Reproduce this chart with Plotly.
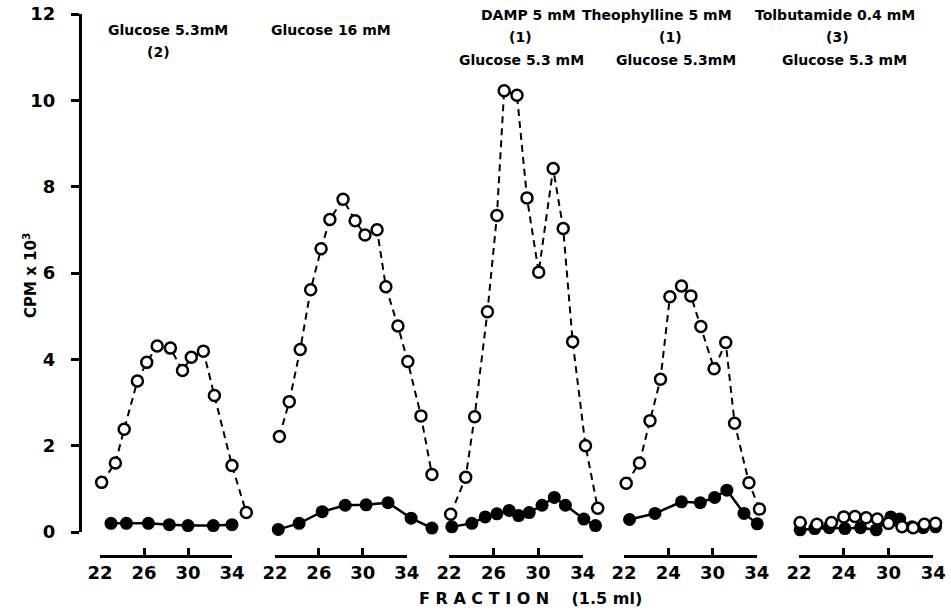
import plotly.graph_objects as go

# ---------------- data ----------------
panel_titles = [
    ["Glucose 5.3mM", "(2)"],
    ["Glucose 16 mM"],
    ["DAMP 5 mM", "(1)", "Glucose 5.3 mM"],
    ["Theophylline 5 mM", "(1)", "Glucose 5.3mM"],
    ["Tolbutamide 0.4 mM", "(3)", "Glucose 5.3 mM"],
]
tick_vals = [22, 26, 30, 34]
tick_text = [
    ["22", "26", "30", "34"],
    ["22", "26", "30", "34"],
    ["22", "26", "30", "34"],
    ["22", "24", "30", "34"],
    ["22", "24", "30", "34"],
]
y_ticks = [0, 2, 4, 6, 8, 10, 12]

p1_open_x = [22.15, 23.4, 24.2, 25.4, 26.25, 27.2, 28.4, 29.5, 30.3, 31.4, 32.4, 34.0, 35.3]
p1_open_y = [1.15, 1.6, 2.38, 3.5, 3.93, 4.31, 4.26, 3.74, 4.05, 4.19, 3.16, 1.54, 0.45]
p1_fill_x = [23.0, 24.4, 26.4, 28.3, 30.0, 32.3, 34.0]
p1_fill_y = [0.2, 0.2, 0.2, 0.17, 0.15, 0.15, 0.17]

p2_open_x = [22.4, 23.3, 24.3, 25.25, 26.2, 27.0, 28.2, 29.3, 30.2, 31.3, 32.1, 33.2, 34.1, 35.3, 36.3]
p2_open_y = [2.21, 3.02, 4.23, 5.61, 6.56, 7.24, 7.71, 7.21, 6.88, 7.0, 5.68, 4.77, 3.95, 2.69, 1.33]
p2_fill_x = [22.3, 24.2, 26.3, 28.4, 30.3, 32.3, 34.4, 36.3]
p2_fill_y = [0.06, 0.2, 0.47, 0.62, 0.63, 0.68, 0.32, 0.09]

p3_open_x = [22.15, 23.5, 24.3, 25.45, 26.3, 26.95, 28.1, 29.0, 30.05, 31.35, 32.25, 33.1, 34.25, 35.35]
p3_open_y = [0.41, 1.27, 2.67, 5.1, 7.33, 10.22, 10.12, 7.74, 6.02, 8.42, 7.03, 4.41, 2.0, 0.55]
p3_fill_x = [22.25, 24.05, 25.25, 26.3, 27.4, 28.25, 29.2, 30.35, 31.45, 32.45, 34.1, 35.15]
p3_fill_y = [0.12, 0.2, 0.35, 0.42, 0.5, 0.38, 0.45, 0.62, 0.8, 0.62, 0.3, 0.15]

p4_open_x = [22.2, 23.4, 24.35, 25.3, 26.15, 27.2, 28.05, 28.95, 30.15, 31.2, 32.0, 33.3, 34.25]
p4_open_y = [1.13, 1.6, 2.58, 3.54, 5.45, 5.7, 5.47, 4.76, 3.78, 4.39, 2.52, 1.14, 0.53]
p4_fill_x = [22.5, 24.8, 27.2, 28.9, 30.2, 31.3, 32.85, 34.05]
p4_fill_y = [0.29, 0.43, 0.7, 0.68, 0.8, 0.97, 0.43, 0.19]

p5_open_x = [22.1, 23.6, 24.9, 26.0, 27.0, 28.0, 29.0, 30.0, 31.2, 32.2, 33.2, 34.2]
p5_open_y = [0.22, 0.18, 0.22, 0.35, 0.36, 0.33, 0.3, 0.2, 0.12, 0.1, 0.18, 0.2]
p5_fill_x = [22.1, 23.4, 24.7, 26.1, 27.5, 28.9, 30.2, 31.0, 32.1, 33.1, 34.2]
p5_fill_y = [0.05, 0.08, 0.1, 0.08, 0.1, 0.05, 0.35, 0.3, 0.12, 0.1, 0.12]

open_x = [p1_open_x, p2_open_x, p3_open_x, p4_open_x, p5_open_x]
open_y = [p1_open_y, p2_open_y, p3_open_y, p4_open_y, p5_open_y]
fill_x = [p1_fill_x, p2_fill_x, p3_fill_x, p4_fill_x, p5_fill_x]
fill_y = [p1_fill_y, p2_fill_y, p3_fill_y, p4_fill_y, p5_fill_y]

# ---------------- layout geometry (pixels) ----------------
W, H = 951, 611
px22 = [100, 275, 449, 624, 799]
px34 = [232, 406.7, 582.7, 756.7, 933.3]
y0_px, y12_px = 532, 14
xaxis_line_px = 556
title_cx = [[168, 158], [331], [528, 520, 521], [657, 670, 676], [835, 837, 844]]
title_cy = [[30, 52], [30], [15, 37, 60], [15, 37, 60], [15, 37, 60]]

FONT = "DejaVu Sans"

fig = go.Figure()
layout = dict(
    width=W, height=H,
    margin=dict(l=0, r=0, t=0, b=0, autoexpand=False),
    paper_bgcolor="white", plot_bgcolor="rgba(0,0,0,0)",
    showlegend=False,
    font=dict(family=FONT, color="black"),
)

ydom = [(H - y0_px) / H, (H - y12_px) / H]
layout["yaxis"] = dict(
    domain=ydom, range=[0, 12], tickvals=y_ticks, ticks="outside", ticklen=8,
    tickwidth=2.5, showline=True, linewidth=3, linecolor="black", tickcolor="black",
    showgrid=False, zeroline=False, anchor="free", position=80 / W,
    automargin=False, ticklabelstandoff=12,
    tickfont=dict(size=18, family=FONT, weight="bold"),
)

for i in range(5):
    scale = (px34[i] - px22[i]) / 12.0
    lo = 21.0
    hi = min(37.0, 22 + (W - 1 - px22[i]) / scale)
    d0 = (px22[i] + (lo - 22) * scale) / W
    d1 = (px22[i] + (hi - 22) * scale) / W
    n = i + 1
    dn = "" if n == 1 else str(n)
    layout["xaxis" + dn] = dict(
        domain=[d0, d1], range=[lo, hi], visible=False, anchor="y",
        showgrid=False, zeroline=False, automargin=False,
    )
    # bracket axis (visible)
    b = str(n + 5)
    layout["xaxis" + b] = dict(
        domain=[px22[i] / W, px34[i] / W], range=[22, 34],
        tickvals=tick_vals, ticktext=tick_text[i], ticks="inside", ticklen=7,
        tickwidth=2.5, tickcolor="black", showline=True, linewidth=2.5,
        linecolor="black", showgrid=False, zeroline=False, anchor="free",
        position=(H - xaxis_line_px) / H, automargin=False,
        tickfont=dict(size=18, family=FONT, weight="bold"),
    )
    fig.add_trace(go.Scatter(x=[22, 34], y=[None, None], xaxis="x" + b, yaxis="y",
                             mode="markers", hoverinfo="skip"))

    xa = "x" + dn
    fig.add_trace(go.Scatter(
        x=fill_x[i], y=fill_y[i], xaxis=xa, yaxis="y", mode="lines+markers",
        line=dict(color="black", width=2.5),
        marker=dict(symbol="circle", size=13, color="black"),
        cliponaxis=False,
    ))
    fig.add_trace(go.Scatter(
        x=open_x[i], y=open_y[i], xaxis=xa, yaxis="y", mode="lines+markers",
        line=dict(color="black", width=2, dash="7px,5px"),
        marker=dict(symbol="circle", size=11, color="white",
                    line=dict(color="black", width=2.5)),
        cliponaxis=False,
    ))

annotations = []
for i, lines in enumerate(panel_titles):
    for j, t in enumerate(lines):
        annotations.append(dict(
            text=t, x=title_cx[i][j] / W, y=1 - title_cy[i][j] / H,
            xref="paper", yref="paper", xanchor="center", yanchor="middle",
            showarrow=False, font=dict(size=14, family=FONT, weight="bold"),
        ))
annotations.append(dict(
    text="F R A C T I O N    (1.5 ml)", x=530 / W, y=1 - 598 / H, xref="paper", yref="paper",
    xanchor="center", yanchor="middle", showarrow=False,
    font=dict(size=16, family=FONT, weight="bold"),
))
annotations.append(dict(
    text="CPM x 10<sup>3</sup>", x=30 / W, y=1 - 276 / H, xref="paper", yref="paper",
    xanchor="center", yanchor="middle", showarrow=False, textangle=-90,
    font=dict(size=15, family=FONT, weight="bold"),
))
layout["annotations"] = annotations

fig.update_layout(**layout)
fig.write_html("out.html")
